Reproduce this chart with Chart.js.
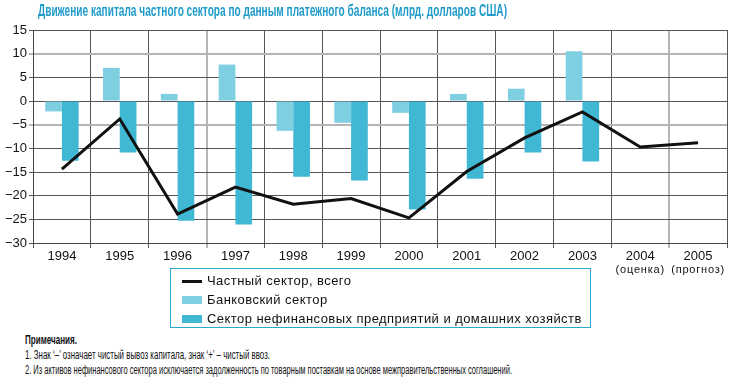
<!DOCTYPE html>
<html>
<head>
<meta charset="utf-8">
<script src="https://cdn.jsdelivr.net/npm/chart.js@4/dist/chart.umd.min.js"></script>
<style>
  html, body { margin:0; padding:0; background:#fff; }
  body { width:729px; height:381px; position:relative; overflow:hidden; font-family:"Liberation Sans", Arial, sans-serif; }
  #wrap { position:absolute; left:0; top:0; width:729px; height:285px; }
  #title { position:absolute; left:38px; top:0px; width:max-content; white-space:nowrap; font-weight:bold; font-size:17px; line-height:22px; color:#1e9bc8; transform-origin:0 0; }
  #legend { position:absolute; left:170px; top:268px; width:421px; height:60px; border:1.5px solid #29a9cf; box-sizing:border-box; }
  .li { position:absolute; left:11px; height:19px; font-size:13px; color:#111; white-space:nowrap; letter-spacing:0.45px; }
  .sw { position:absolute; left:0; width:20px; }
  .lt { position:absolute; left:25px; top:0; line-height:19px; }
  #notes { position:absolute; left:25px; top:333px; font-size:12.5px; color:#111; }
  .nl { width:max-content; white-space:nowrap; transform-origin:0 0; height:15px; line-height:15px; }
</style>
</head>
<body>
<div id="wrap"><canvas id="c" width="729" height="285"></canvas></div>
<div id="title">Движение капитала частного сектора по данным платежного баланса (млрд. долларов США)</div>
<div id="legend"></div>
<div id="notes">
  <div class="nl" id="n0" style="font-weight:bold">Примечания.</div>
  <div class="nl" id="n1">1. Знак ‘–’ означает чистый вывоз капитала, знак ‘+’ – чистый ввоз.</div>
  <div class="nl" id="n2">2. Из активов нефинансового сектора исключается задолженность по товарным поставкам на основе межправительственных соглашений.</div>
</div>
<script>
const years = ['1994','1995','1996','1997','1998','1999','2000','2001','2002','2003','2004','2005'];
const yearNotes = ['','','','','','','','','','','(оценка)','(прогноз)'];
const privateTotal = [-14.4, -3.8, -23.9, -18.2, -21.8, -20.6, -24.7, -14.9, -7.8, -2.3, -9.7, -8.8];
const bankSector = [-2.2, 7.0, 1.5, 7.7, -6.3, -4.6, -2.5, 1.5, 2.6, 10.5, null, null];
const nonFinSector = [-12.6, -10.9, -25.3, -26.1, -16.0, -16.8, -22.9, -16.4, -10.9, -12.8, null, null];
const seriesNames = ['Частный сектор, всего', 'Банковский сектор', 'Сектор нефинансовых предприятий и домашних хозяйств'];
const yMin = -30, yMax = 15, yStep = 5;

const colLine = '#111111', colBank = '#7fcfe2', colNonFin = '#40b8d4';

function fitWidth(id, w) {
  const el = document.getElementById(id);
  const cw = el.getBoundingClientRect().width;
  el.style.transform = 'scaleX(' + (w / cw) + ')';
}
fitWidth('title', 469);
fitWidth('n0', 52);
fitWidth('n1', 245);
fitWidth('n2', 487);

const legend = document.getElementById('legend');
const swatches = [
  {c: colLine, h: 3},
  {c: colBank, h: 8},
  {c: colNonFin, h: 8}
];
seriesNames.forEach((name, i) => {
  const row = document.createElement('div');
  row.className = 'li';
  row.style.top = (2 + i * 19) + 'px';
  const sw = document.createElement('div');
  sw.className = 'sw';
  sw.style.background = swatches[i].c;
  sw.style.height = swatches[i].h + 'px';
  sw.style.top = (10 - swatches[i].h / 2) + 'px';
  const t = document.createElement('div');
  t.className = 'lt';
  t.textContent = name;
  row.appendChild(sw); row.appendChild(t);
  legend.appendChild(row);
});

const subLabels = {
  id: 'subLabels',
  afterDraw(chart) {
    const ctx = chart.ctx, xs = chart.scales.x;
    ctx.save();
    ctx.font = '11px "Liberation Sans", Arial, sans-serif';
    ctx.fillStyle = '#111';
    ctx.textAlign = 'center';
    ctx.textBaseline = 'middle';
    try { ctx.letterSpacing = '0.8px'; } catch (e) {}
    yearNotes.forEach((t, i) => {
      if (t) ctx.fillText(t, xs.getPixelForValue(i), chart.chartArea.bottom + 27);
    });
    ctx.restore();
  }
};

const grayY = [10, -5];
const grayX = [3, 11, 12];

new Chart(document.getElementById('c'), {
  data: {
    labels: years,
    datasets: [
      { type:'line', label: seriesNames[0], data: privateTotal, borderColor: colLine, borderWidth: 3,
        pointRadius: 0, tension: 0, order: 0, borderJoinStyle: 'miter' },
      { type:'bar', label: seriesNames[1], data: bankSector, backgroundColor: colBank, order: 1,
        barPercentage: 1, categoryPercentage: 0.578 },
      { type:'bar', label: seriesNames[2], data: nonFinSector, backgroundColor: colNonFin, order: 1,
        barPercentage: 1, categoryPercentage: 0.578 }
    ]
  },
  options: {
    responsive: false,
    animation: false,
    events: [],
    layout: { padding: { top: 30, right: 2, left: 0, bottom: 0 } },
    plugins: { legend: { display: false }, tooltip: { enabled: false }, title: { display: false } },
    scales: {
      x: {
        offset: true,
        grid: {
          offset: true,
          color: c => grayX.includes(c.index) ? '#b5b5b5' : '#555',
          lineWidth: c => grayX.includes(c.index) ? 2 : 1,
          tickLength: 5,
          drawTicks: true
        },
        border: { color: '#444', width: 1 },
        ticks: { color: '#111', font: { size: 13, family: '"Liberation Sans", Arial, sans-serif' }, padding: 1, maxRotation: 0, autoSkip: false },
        afterFit: s => { s.height = 42; }
      },
      y: {
        min: yMin, max: yMax,
        grid: {
          color: c => grayY.includes(c.tick.value) ? '#b5b5b5' : '#555',
          lineWidth: c => grayY.includes(c.tick.value) ? 2 : 1,
          tickLength: 4
        },
        border: { color: '#444', width: 1 },
        ticks: { stepSize: yStep, color: '#111', font: { size: 13, family: '"Liberation Sans", Arial, sans-serif' }, padding: 2,
          callback: v => (v < 0 ? '\u2212' + Math.abs(v) : String(v)) },
        afterFit: s => { s.width = 33; }
      }
    }
  },
  plugins: [subLabels]
});
</script>
</body>
</html>
